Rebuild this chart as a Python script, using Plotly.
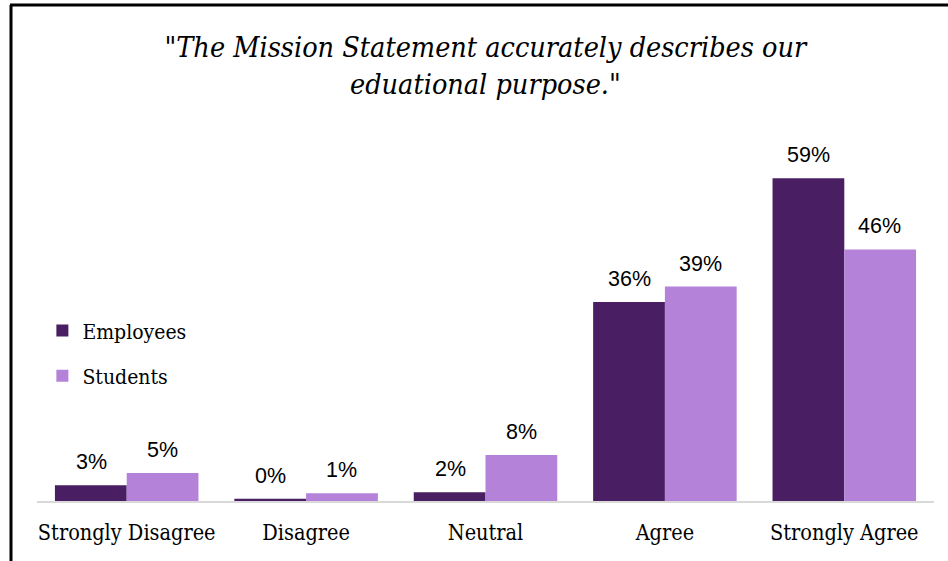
import plotly.graph_objects as go

categories = ["Strongly Disagree", "Disagree", "Neutral", "Agree", "Strongly Agree"]
employees = [2.9, 0.4, 1.6, 36.4, 59.0]
students = [5.1, 1.4, 8.4, 39.2, 46.0]
series_names = ["Employees", "Students"]
colors = ["#4a1e63", "#b482d9"]
title_text = "\"The Mission Statement accurately describes our<br>eduational purpose.\""

SERIF = "DejaVu Serif Condensed"
SANS = "Liberation Sans"

fig = go.Figure()
for i, (name, vals) in enumerate(zip(series_names, [employees, students])):
    fig.add_trace(go.Bar(
        x=categories, y=vals, name=name, marker_color=colors[i],
        marker_line_width=0, legendgroup=name,
    ))

# value labels
annotations = []
for i, vals in enumerate([employees, students]):
    shift = -35.5 if i == 0 else 35.5
    for c, v in zip(categories, vals):
        annotations.append(dict(
            x=c, y=v, xref="x", yref="y", text=f"{round(v):.0f}%",
            showarrow=False, xshift=shift, yshift=9, yanchor="bottom",
            font=dict(family=SANS, size=21.5, color="#000000"),
        ))

fig.update_layout(
    width=948, height=561,
    margin=dict(l=37, r=14, t=140, b=60),
    paper_bgcolor="white", plot_bgcolor="white",
    barmode="group", bargap=0.2, bargroupgap=0,
    title=dict(text=title_text, x=0.512, xanchor="center", xref="container",
               y=0.898, yanchor="middle", yref="container",
               font=dict(family=SERIF, size=28.5, color="#000000", style="italic")),
    legend=dict(x=0.006, xanchor="left", y=0.528, yanchor="top",
                font=dict(family=SERIF, size=21, color="#000000"),
                traceorder="grouped", tracegroupgap=15,
                bgcolor="rgba(0,0,0,0)"),
    annotations=annotations,
    showlegend=True,
)
fig.update_xaxes(showline=True, linecolor="#d9d9d9", linewidth=2,
                 showgrid=False, ticks="", ticklabelstandoff=11,
                 tickfont=dict(family=SERIF, size=21.5, color="#000000"))
fig.update_yaxes(visible=False, range=[0, 66], showgrid=False)

# frame (left and top borders)
fig.add_shape(type="line", xref="paper", yref="paper",
              x0=(11 - 37) / 897, x1=(11 - 37) / 897, y0=-60 / 361 - 0.01, y1=1 + 135 / 361,
              line=dict(color="black", width=3))
fig.add_shape(type="line", xref="paper", yref="paper",
              x0=(10 - 37) / 897, x1=1 + 16 / 897, y0=1 + 135 / 361, y1=1 + 135 / 361,
              line=dict(color="black", width=3))

fig.write_html("out.html")
